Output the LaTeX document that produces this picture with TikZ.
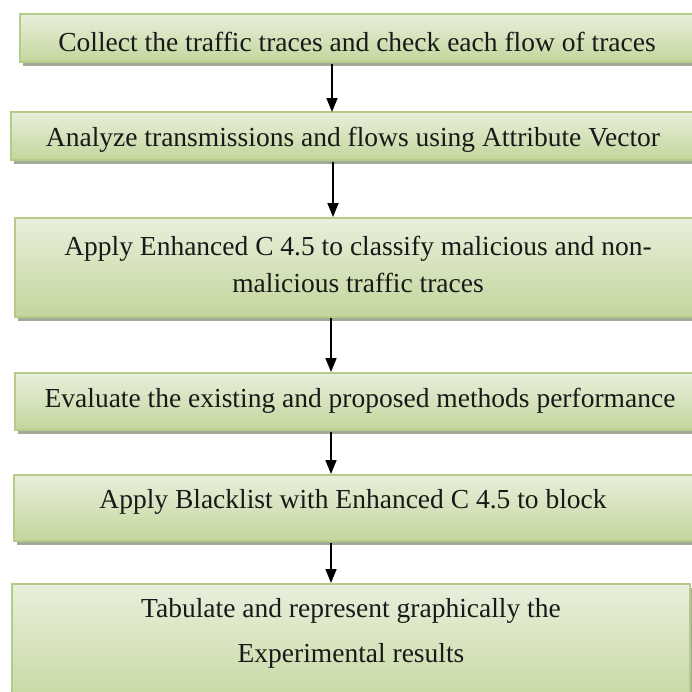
\documentclass[tikz,border=0pt]{standalone}
\usepackage{fontspec}
\setmainfont{Liberation Serif}
\usetikzlibrary{arrows.meta,calc}
\definecolor{boxtop}{HTML}{E8EFDC}
\definecolor{boxbot}{HTML}{C3D69C}
\definecolor{boxline}{HTML}{B4CB8A}
\definecolor{shadowc}{HTML}{A3A996}
\tikzset{
  stepbox/.style={draw=boxline, line width=1.2pt, top color=boxtop, bottom color=boxbot, shading angle=0},
  shadowbox/.style={fill=shadowc, draw=none},
  txt/.style={font=\fontsize{27.5}{37}\selectfont, align=center, inner sep=0pt, text=black!90},
  arr/.style={line width=1.6pt, -{Triangle[length=14pt,width=11pt]}},
}
\begin{document}
\begin{tikzpicture}[x=1pt,y=-1pt]
\useasboundingbox (0,0) rectangle (692,691);
\clip (0,0) rectangle (692,691);
% shadows
\fill[shadowbox] (23,18) rectangle (703,66);
\fill[shadowbox] (14,116) rectangle (703,164);
\fill[shadowbox] (18,222) rectangle (703,321);
\fill[shadowbox] (18,377) rectangle (703,434);
\fill[shadowbox] (17,479) rectangle (703,545);
\fill[shadowbox] (15,588) rectangle (693,720);
% boxes
\path[stepbox] (20,14) rectangle (700,62) node[pos=0.5, inner sep=0pt] (b1) {};
\path[stepbox] (11,112) rectangle (700,160) node[pos=0.5, inner sep=0pt] (b2) {};
\path[stepbox] (15,218) rectangle (700,317) node[pos=0.5, inner sep=0pt] (b3) {};
\path[stepbox] (15,373) rectangle (700,430) node[pos=0.5, inner sep=0pt] (b4) {};
\path[stepbox] (14,475) rectangle (700,541) node[pos=0.5, inner sep=0pt] (b5) {};
\path[stepbox] (12,584) rectangle (690,715) node[pos=0.5, inner sep=0pt] (b6) {};
% named box edges
\coordinate (b1s) at (332,64);
\coordinate (b2n) at (332,112);
\coordinate (b2s) at (333,162);
\coordinate (b3n) at (333,217);
\coordinate (b3s) at (331,318);
\coordinate (b4n) at (331,372);
\coordinate (b4s) at (331,432);
\coordinate (b5n) at (331,474);
\coordinate (b5s) at (331,543);
\coordinate (b6n) at (331,583);
% texts
\node[txt] (t1) at (357,42) {Collect the traffic traces and check each flow of traces};
\node[txt] (t2) at (353,140) {Analyze transmissions and flows using Attribute Vector};
\node[txt] (t3) at (358,264) {Apply Enhanced C 4.5 to classify malicious and non-\\malicious traffic traces};
\node[txt] (t4) at (360,401) {Evaluate the existing and proposed methods performance};
\node[txt] (t5) at (353,502) {Apply Blacklist with Enhanced C 4.5 to block};
\node[txt, font=\fontsize{27.5}{45}\selectfont] (t6) at (351,633) {Tabulate and represent graphically the\\Experimental results};
% arrows
\draw[arr] (b1s) -- (b2n);
\draw[arr] (b2s) -- (b3n);
\draw[arr] (b3s) -- (b4n);
\draw[arr] (b4s) -- (b5n);
\draw[arr] (b5s) -- (b6n);
\end{tikzpicture}
\end{document}
